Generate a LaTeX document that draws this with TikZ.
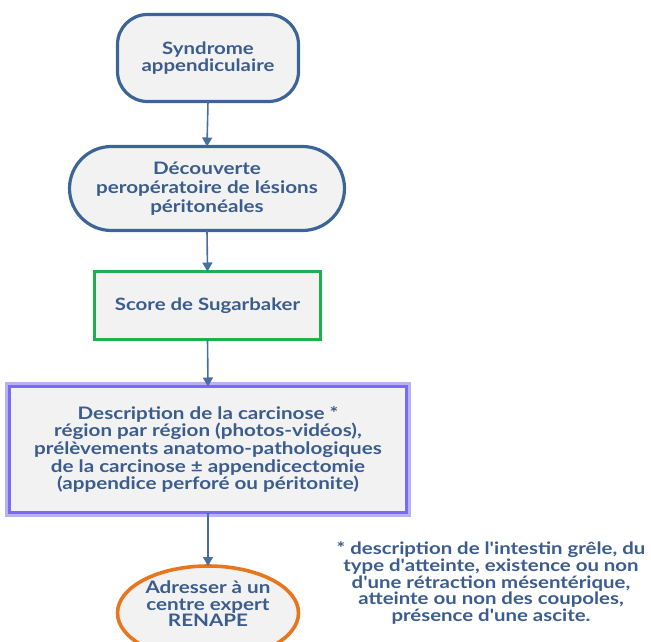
\documentclass[tikz,border=0pt]{standalone}
\usepackage{fontspec}
\setmainfont{Lato}[UprightFont=* Bold, FakeStretch=1.2, Ligatures=TeXOff]
\usetikzlibrary{shapes.geometric,arrows.meta}
\definecolor{txtblue}{HTML}{3A5C8E}
\definecolor{edgeblue}{HTML}{3D6497}
\definecolor{arrowblue}{HTML}{4A6E9E}
\definecolor{boxfill}{HTML}{F2F2F2}
\definecolor{greenedge}{HTML}{1FB04E}
\definecolor{purpleedge}{HTML}{7A6BF0}
\definecolor{purpleglow}{HTML}{B9B0F7}
\definecolor{orangeedge}{HTML}{E8761E}
\tikzset{
  base/.style={fill=boxfill, text=txtblue, align=center, inner sep=0pt, outer sep=0pt,
    font=\fontsize{17}{17.5}\selectfont},
  pill/.style={base, draw=edgeblue, line width=3.2pt, rectangle},
  greenbox/.style={base, draw=greenedge, line width=3.6pt, rectangle},
  purplebox/.style={base, draw=purpleedge, line width=3.6pt, rectangle},
  ovalbox/.style={base, draw=orangeedge, line width=3.6pt, ellipse},
  flow/.style={draw=arrowblue, line width=1.6pt, -{Triangle[length=9pt,width=10pt]}},
  note/.style={text=txtblue, align=center, inner sep=0pt, font=\fontsize{17}{16.6}\selectfont}
}
\begin{document}
\begin{tikzpicture}[x=1pt,y=-1pt]
  \useasboundingbox (0,0) rectangle (651,642);
  % glow under the purple frame
  \draw[purpleglow, line width=6pt] (8,385) rectangle (408,514);
  \node[pill, minimum width=181pt, minimum height=87pt, rounded corners=30pt] (s1) at (208,58)
    {Syndrome\\appendiculaire};
  \node[pill, minimum width=275pt, minimum height=84pt, rounded corners=42pt,
    font=\fontsize{17.2}{19}\selectfont] (s2) at (207,188.5)
    {Découverte\\peropératoire de lésions\\péritonéales};
  \node[greenbox, minimum width=226pt, minimum height=68pt] (s3) at (207.5,305.5)
    {Score de Sugarbaker};
  \node[purplebox, minimum width=397pt, minimum height=126pt,
    font=\fontsize{17.2}{17.6}\selectfont] (s4) at (208,449.5)
    {Description de la carcinose *\\région par région (photos-vidéos),\\prélèvements anatomo-pathologiques\\de la carcinose ± appendicectomie\\(appendice perforé ou péritonite)};
  \node[ovalbox, minimum width=181pt, minimum height=94pt] (s5) at (208,613)
    {};
  \node[text=txtblue, align=center, font=\fontsize{17.2}{16.5}\selectfont] (s5t) at (208,604)
    {Adresser à un\\centre expert\\RENAPE};
  \node[note] (fn) at (491,583)
    {* description de l'intestin grêle, du\\type d'atteinte, existence ou non\\d'une rétraction mésentérique,\\atteinte ou non des coupoles,\\présence d'une ascite.};
  \draw[flow] (s1.south) -- (s2.north);
  \draw[flow] (s2.south) -- (s3.north);
  \draw[flow] (s3.south) -- (s4.north);
  \draw[flow] (s4.south) -- (s5.north);
\end{tikzpicture}
\end{document}
